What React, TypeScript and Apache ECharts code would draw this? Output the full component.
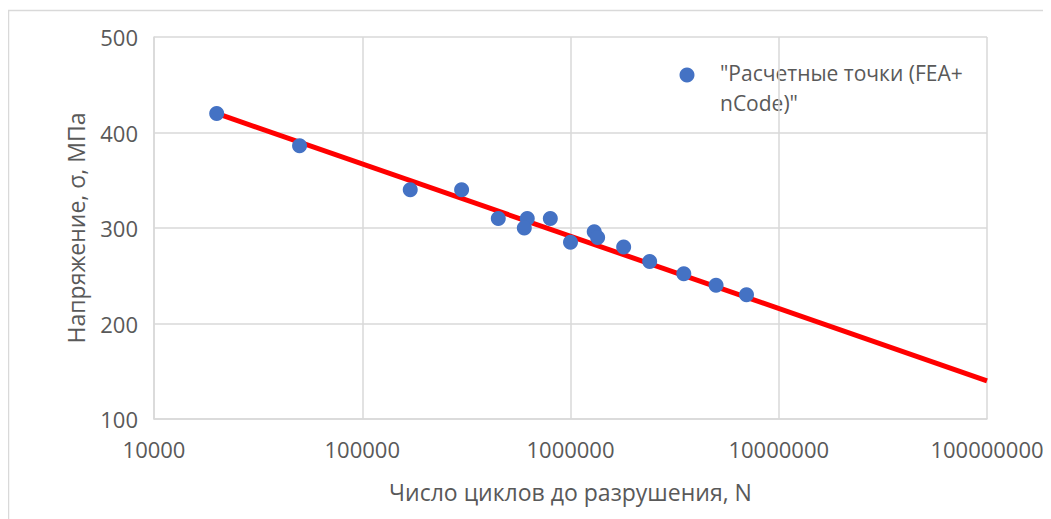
import React, { useEffect, useRef } from "react";
import * as echarts from "echarts";

const cycles = [20000, 50000, 170000, 300000, 450000, 620000, 600000, 800000, 1000000, 1300000, 1350000, 1800000, 2400000, 3500000, 5000000, 7000000];
const stress = [420, 386, 340, 340, 310, 310, 300, 310, 285, 296, 290, 280, 265, 252, 240, 230];
const trendCycles = [20000, 100000000];
const trendStress = [420, 140];
const legendLabel = '"Расчетные точки (FEA+\nnCode)"';
const xTitle = "Число циклов до разрушения, N";
const yTitle = "Напряжение, σ, МПа";

const FONT = "'Open Sans', 'Noto Sans', sans-serif";
const TXT = "#595959";
const GRID = "#d9d9d9";

export default function App() {
  const ref = useRef<HTMLDivElement>(null);
  useEffect(() => {
    if (!ref.current) return;
    const chart = echarts.init(ref.current, null, { renderer: "svg" });
    chart.setOption({
      animation: false,
      backgroundColor: "#ffffff",
      textStyle: { fontFamily: FONT },
      grid: { left: 146, top: 29, right: 64, bottom: 100, containLabel: false },
      xAxis: {
        type: "log",
        logBase: 10,
        min: 10000,
        max: 100000000,
        name: xTitle,
        nameLocation: "middle",
        nameGap: 61,
        nameTextStyle: { color: TXT, fontSize: 23, fontFamily: FONT },
        axisLine: { show: true, lineStyle: { color: GRID, width: 1.5 } },
        axisTick: { show: false },
        axisLabel: {
          color: TXT,
          fontSize: 22,
          fontFamily: FONT,
          margin: 19,
          formatter: (v: number) => String(Math.round(v)),
        },
        splitLine: { show: true, lineStyle: { color: GRID, width: 1.5 } },
        minorSplitLine: { show: false },
      },
      yAxis: {
        type: "value",
        min: 100,
        max: 500,
        interval: 100,
        name: yTitle,
        nameLocation: "middle",
        nameGap: 67,
        nameRotate: 90,
        nameTextStyle: { color: TXT, fontSize: 23, fontFamily: FONT },
        axisLine: { show: true, lineStyle: { color: GRID, width: 1.5 } },
        axisTick: { show: false },
        axisLabel: { color: TXT, fontSize: 22, fontFamily: FONT, margin: 16 },
        splitLine: { show: true, lineStyle: { color: GRID, width: 1.5 } },
      },
      series: [
        {
          name: "trend",
          type: "line",
          data: trendCycles.map((c, i) => [c, trendStress[i]]),
          showSymbol: false,
          symbol: "none",
          lineStyle: { color: "#ff0000", width: 5 },
          z: 2,
          silent: true,
        },
        {
          name: legendLabel,
          type: "scatter",
          data: cycles.map((c, i) => [c, stress[i]]),
          symbol: "circle",
          symbolSize: 15,
          itemStyle: { color: "#4472c4", opacity: 1 },
          z: 3,
        },
      ],
      graphic: [
        {
          type: "rect",
          silent: true,
          shape: { x: 0.5, y: 2.5, width: 1200, height: 700 },
          style: { fill: "none", stroke: GRID, lineWidth: 1.5 },
          z: 0,
        },
        {
          type: "circle",
          shape: { cx: 679, cy: 67, r: 7.5 },
          style: { fill: "#4472c4" },
        },
        {
          type: "text",
          x: 712,
          y: 50,
          style: {
            text: legendLabel,
            fill: TXT,
            fontSize: 21,
            fontFamily: FONT,
            lineHeight: 30,
            verticalAlign: "top",
            align: "left",
          },
        },
      ],
    });
    return () => chart.dispose();
  }, []);
  return <div ref={ref} style={{ width: 1043, height: 511 }} />;
}
